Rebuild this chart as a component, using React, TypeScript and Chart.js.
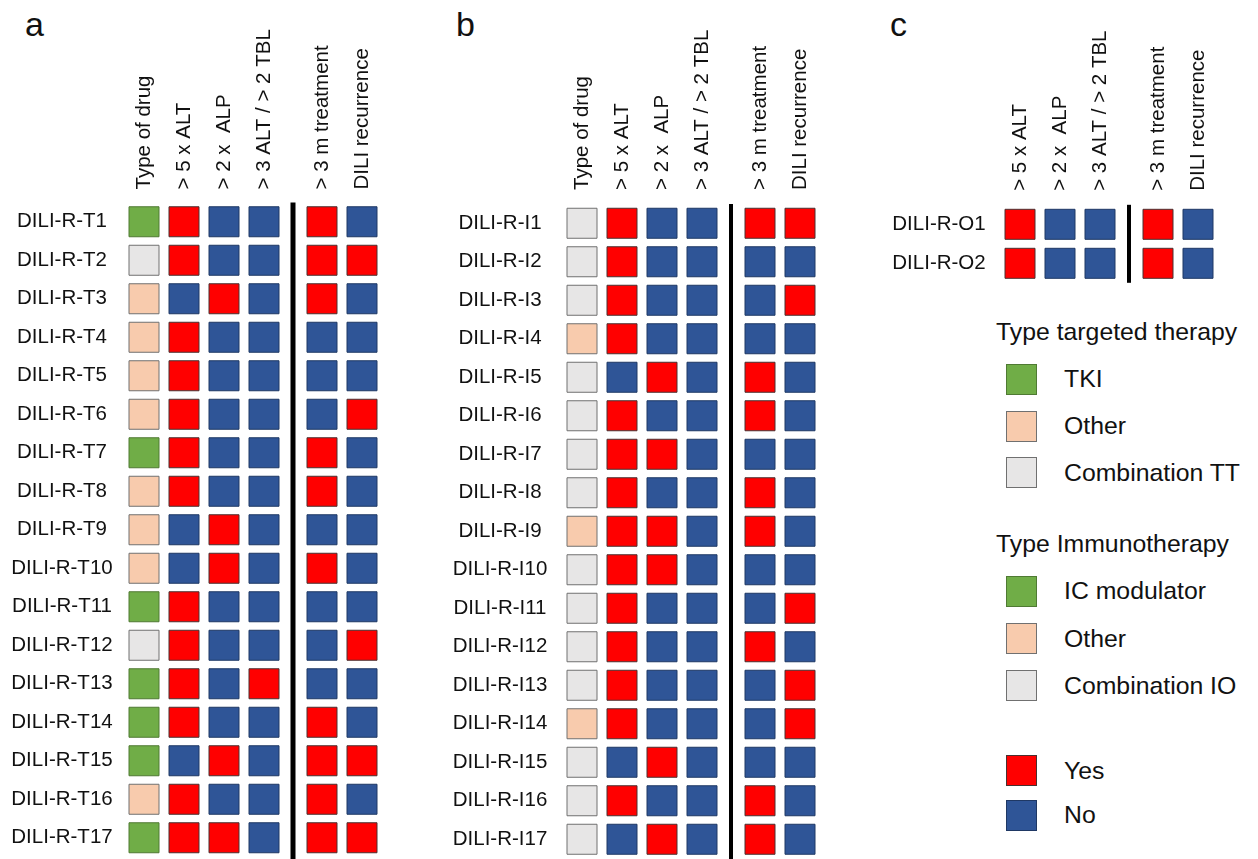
import React, { useEffect, useRef } from 'react';
import { Chart, registerables } from 'chart.js';

Chart.register(...registerables);

const FONT_FAMILY = "'Liberation Sans', Arial, Helvetica, sans-serif";
const TEXT_COLOR = '#111111';

const COLOR_YES = '#FF0000';
const COLOR_NO = '#2F5597';
const COLOR_MAIN = '#70AD47';
const COLOR_OTHER = '#F8CBAD';
const COLOR_COMBO = '#E7E6E6';

// ---------- column headers ----------
const HEADERS_FULL = ['Type of drug', '> 5 x ALT', '> 2 x  ALP', '> 3 ALT / > 2 TBL', '> 3 m treatment', 'DILI recurrence'];
const GROUPS_FULL = [0, 0, 0, 0, 1, 1];
const HEADERS_SHORT = ['> 5 x ALT', '> 2 x  ALP', '> 3 ALT / > 2 TBL', '> 3 m treatment', 'DILI recurrence'];
const GROUPS_SHORT = [0, 0, 0, 1, 1];

// ---------- panel a : targeted therapy ----------
const rowsT = [
  'DILI-R-T1', 'DILI-R-T2', 'DILI-R-T3', 'DILI-R-T4', 'DILI-R-T5', 'DILI-R-T6', 'DILI-R-T7', 'DILI-R-T8', 'DILI-R-T9',
  'DILI-R-T10', 'DILI-R-T11', 'DILI-R-T12', 'DILI-R-T13', 'DILI-R-T14', 'DILI-R-T15', 'DILI-R-T16', 'DILI-R-T17',
];
const typeT = ['TKI', 'Combination', 'Other', 'Other', 'Other', 'Other', 'TKI', 'Other', 'Other', 'Other', 'TKI', 'Combination', 'TKI', 'TKI', 'TKI', 'Other', 'TKI'];
const altT = [1, 1, 0, 1, 1, 1, 1, 1, 0, 0, 1, 1, 1, 1, 0, 1, 1];
const alpT = [0, 0, 1, 0, 0, 0, 0, 0, 1, 1, 0, 0, 0, 0, 1, 0, 1];
const tblT = [0, 0, 0, 0, 0, 0, 0, 0, 0, 0, 0, 0, 1, 0, 0, 0, 0];
const treatT = [1, 1, 1, 0, 0, 0, 1, 1, 0, 1, 0, 0, 0, 1, 1, 1, 1];
const recT = [0, 1, 0, 0, 0, 1, 0, 0, 0, 0, 0, 1, 0, 0, 1, 0, 1];

// ---------- panel b : immunotherapy ----------
const rowsI = [
  'DILI-R-I1', 'DILI-R-I2', 'DILI-R-I3', 'DILI-R-I4', 'DILI-R-I5', 'DILI-R-I6', 'DILI-R-I7', 'DILI-R-I8', 'DILI-R-I9',
  'DILI-R-I10', 'DILI-R-I11', 'DILI-R-I12', 'DILI-R-I13', 'DILI-R-I14', 'DILI-R-I15', 'DILI-R-I16', 'DILI-R-I17',
];
const typeI = ['Combination', 'Combination', 'Combination', 'Other', 'Combination', 'Combination', 'Combination', 'Combination', 'Other', 'Combination', 'Combination', 'Combination', 'Combination', 'Other', 'Combination', 'Combination', 'Combination'];
const altI = [1, 1, 1, 1, 0, 1, 1, 1, 1, 1, 1, 1, 1, 1, 0, 1, 0];
const alpI = [0, 0, 0, 0, 1, 0, 1, 0, 1, 1, 0, 0, 0, 0, 1, 0, 1];
const tblI = [0, 0, 0, 0, 0, 0, 0, 0, 0, 0, 0, 0, 0, 0, 0, 0, 0];
const treatI = [1, 0, 0, 0, 1, 1, 0, 1, 1, 0, 0, 1, 0, 0, 0, 1, 1];
const recI = [1, 0, 1, 0, 0, 0, 0, 0, 0, 0, 1, 0, 1, 1, 0, 0, 0];

// ---------- panel c : other ----------
const rowsO = ['DILI-R-O1', 'DILI-R-O2'];
const altO = [1, 1];
const alpO = [0, 0];
const tblO = [0, 0];
const treatO = [1, 1];
const recO = [0, 0];

// ---------- legend ----------
const legendTT = [
  { label: 'TKI', color: COLOR_MAIN },
  { label: 'Other', color: COLOR_OTHER },
  { label: 'Combination TT', color: COLOR_COMBO },
];
const legendIO = [
  { label: 'IC modulator', color: COLOR_MAIN },
  { label: 'Other', color: COLOR_OTHER },
  { label: 'Combination IO', color: COLOR_COMBO },
];
const legendYN = [
  { label: 'Yes', color: COLOR_YES },
  { label: 'No', color: COLOR_NO },
];

const GROUP_GAP = 0.45;
const SQUARE = 30;
const COL_STEP = 40;
const ROW_FONT_SIZE = 20.5;
const HEAD_FONT_SIZE = 20.5;

function cellColor(v: number | string) {
  if (v === 1) return COLOR_YES;
  if (v === 0) return COLOR_NO;
  if (v === 'TKI' || v === 'IC modulator') return COLOR_MAIN;
  if (v === 'Other') return COLOR_OTHER;
  return COLOR_COMBO;
}
function borderOf(color: string) {
  if (color === COLOR_YES) return '#4a3030';
  if (color === COLOR_NO) return '#1F3864';
  if (color === COLOR_MAIN) return '#4f7a33';
  return '#707070';
}

function measureWidest(labels: string[], size: number) {
  const c = document.createElement('canvas').getContext('2d')!;
  c.font = `${size}px ${FONT_FAMILY}`;
  return Math.max(...labels.map((l) => c.measureText(l).width));
}

const separatorPlugin = {
  id: 'separator',
  afterDatasetsDraw(chart: any, _args: any, opts: any) {
    const xs = chart.scales.x;
    const { top, bottom } = chart.chartArea;
    const x = xs.getPixelForValue(opts.at);
    const ctx = chart.ctx;
    ctx.save();
    ctx.strokeStyle = '#000';
    ctx.lineWidth = opts.width;
    ctx.beginPath();
    ctx.moveTo(x, top);
    ctx.lineTo(x, opts.toBottom ? chart.height : bottom);
    ctx.stroke();
    ctx.restore();
  },
};

type Col = { header: string; group: number; values: (number | string)[] };

type PanelSpec = {
  rows: string[];
  cols: Col[];
  width: number;
  height: number;
  chartLeft: number;
  chartTop: number;
  rowStep: number;
  labelCenter: number;
  headerPad: number;
  lineWidth: number;
  toBottom: boolean;
};

function buildConfig(p: PanelSpec): any {
  const positions = p.cols.map((c, i) => i + c.group * GROUP_GAP);
  const split = p.cols.findIndex((c) => c.group === 1);
  const sepAt = (positions[split - 1] + positions[split]) / 2;
  const xMin = positions[0] - 0.5;
  const xMax = positions[positions.length - 1] + 0.5;
  const chartW = (xMax - xMin) * COL_STEP;
  const chartH = p.rows.length * p.rowStep;
  const widest = measureWidest(p.rows, ROW_FONT_SIZE);

  const datasets = p.cols.map((c, i) => ({
    label: c.header,
    data: p.rows.map((r) => ({ x: positions[i], y: r })),
    pointStyle: 'rect',
    pointRadius: SQUARE / Math.SQRT2,
    pointHoverRadius: SQUARE / Math.SQRT2,
    pointBackgroundColor: c.values.map(cellColor),
    pointBorderColor: c.values.map((v) => borderOf(cellColor(v))),
    pointBorderWidth: 1,
    pointHoverBorderWidth: 1,
    clip: false,
  }));

  return {
    type: 'scatter',
    data: { datasets },
    plugins: [separatorPlugin],
    options: {
      responsive: false,
      animation: false,
      events: [],
      layout: {
        autoPadding: false,
        padding: {
          left: 0,
          top: 0,
          right: p.width - p.chartLeft - chartW,
          bottom: p.height - p.chartTop - chartH,
        },
      },
      plugins: {
        legend: { display: false },
        tooltip: { enabled: false },
        separator: { at: sepAt, width: p.lineWidth, toBottom: p.toBottom },
      },
      scales: {
        x: {
          type: 'linear',
          position: 'top',
          min: xMin,
          max: xMax,
          grid: { display: false, drawTicks: false },
          border: { display: false },
          afterBuildTicks: (s: any) => {
            s.ticks = positions.map((v) => ({ value: v }));
          },
          afterFit: (s: any) => {
            s.height = p.chartTop;
            s.paddingLeft = 0;
            s.paddingRight = 0;
          },
          ticks: {
            autoSkip: false,
            minRotation: 90,
            maxRotation: 90,
            padding: p.headerPad,
            labelOffset: HEAD_FONT_SIZE * 1.2 + 0.5,
            color: TEXT_COLOR,
            font: { family: FONT_FAMILY, size: HEAD_FONT_SIZE },
            callback: (_v: any, i: number) => p.cols[i].header,
          },
        },
        y: {
          type: 'category',
          labels: p.rows,
          offset: true,
          position: 'left',
          grid: { display: false, drawTicks: false },
          border: { display: false },
          afterFit: (s: any) => {
            s.width = p.chartLeft;
            s.paddingTop = 0;
            s.paddingBottom = 0;
          },
          ticks: {
            autoSkip: false,
            crossAlign: 'center',
            padding: p.chartLeft - p.labelCenter - widest / 2,
            color: TEXT_COLOR,
            font: { family: FONT_FAMILY, size: ROW_FONT_SIZE },
          },
        },
      },
    },
  };
}

function Panel({ spec, left, top }: { spec: PanelSpec; left: number; top: number }) {
  const ref = useRef<HTMLCanvasElement>(null);
  useEffect(() => {
    const chart = new Chart(ref.current!, buildConfig(spec));
    return () => chart.destroy();
  }, []);
  return (
    <canvas
      ref={ref}
      width={spec.width}
      height={spec.height}
      style={{ position: 'absolute', left, top, width: spec.width, height: spec.height }}
    />
  );
}

const specA: PanelSpec = {
  rows: rowsT,
  cols: [typeT, altT, alpT, tblT, treatT, recT].map((values, i) => ({ header: HEADERS_FULL[i], group: GROUPS_FULL[i], values })),
  width: 400,
  height: 859,
  chartLeft: 124,
  chartTop: 202.5,
  rowStep: 38.5,
  labelCenter: 62,
  headerPad: 13,
  lineWidth: 5,
  toBottom: true,
};

const specB: PanelSpec = {
  rows: rowsI,
  cols: [typeI, altI, alpI, tblI, treatI, recI].map((values, i) => ({ header: HEADERS_FULL[i], group: GROUPS_FULL[i], values })),
  width: 420,
  height: 859,
  chartLeft: 142,
  chartTop: 204,
  rowStep: 38.5,
  labelCenter: 80,
  headerPad: 14,
  lineWidth: 4,
  toBottom: true,
};

const specC: PanelSpec = {
  rows: rowsO,
  cols: [altO, alpO, tblO, treatO, recO].map((values, i) => ({ header: HEADERS_SHORT[i], group: GROUPS_SHORT[i], values })),
  width: 388,
  height: 300,
  chartLeft: 130,
  chartTop: 204.8,
  rowStep: 39,
  labelCenter: 69,
  headerPad: 14,
  lineWidth: 4,
  toBottom: false,
};

const LEGEND_FONT = 24.8;

function LegendBlock({ top, title, items, rowH }: { top: number; title?: string; items: { label: string; color: string }[]; rowH: number }) {
  return (
    <div style={{ position: 'absolute', left: 996, top, display: 'flex', flexDirection: 'column' }}>
      {title && (
        <div style={{ height: rowH, display: 'flex', alignItems: 'center', whiteSpace: 'nowrap' }}>{title}</div>
      )}
      {items.map((it) => (
        <div key={it.label} style={{ height: rowH, display: 'flex', alignItems: 'center', whiteSpace: 'nowrap' }}>
          <div
            style={{
              width: 31,
              height: 31,
              boxSizing: 'border-box',
              border: `1px solid ${borderOf(it.color)}`,
              background: it.color,
              marginLeft: 10,
              marginRight: 27,
            }}
          />
          <span>{it.label}</span>
        </div>
      ))}
    </div>
  );
}

const letterStyle = (left: number): React.CSSProperties => ({
  position: 'absolute',
  left,
  top: 6.7,
  fontSize: 34,
  lineHeight: '34px',
  fontFamily: FONT_FAMILY,
  color: TEXT_COLOR,
});

export default function App() {
  return (
    <div
      style={{
        position: 'fixed',
        left: 0,
        top: 0,
        width: 1258,
        height: 859,
        background: '#fff',
        overflow: 'hidden',
        fontFamily: FONT_FAMILY,
        color: TEXT_COLOR,
        fontSize: LEGEND_FONT,
      }}
    >
      <div style={letterStyle(25)}>a</div>
      <div style={letterStyle(456)}>b</div>
      <div style={letterStyle(890)}>c</div>
      <Panel spec={specA} left={0} top={0} />
      <Panel spec={specB} left={420} top={0} />
      <Panel spec={specC} left={870} top={0} />
      <LegendBlock top={309.1} title="Type targeted therapy" items={legendTT} rowH={46.8} />
      <LegendBlock top={520.35} title="Type Immunotherapy" items={legendIO} rowH={47.3} />
      <LegendBlock top={748.25} items={legendYN} rowH={44.5} />
    </div>
  );
}
